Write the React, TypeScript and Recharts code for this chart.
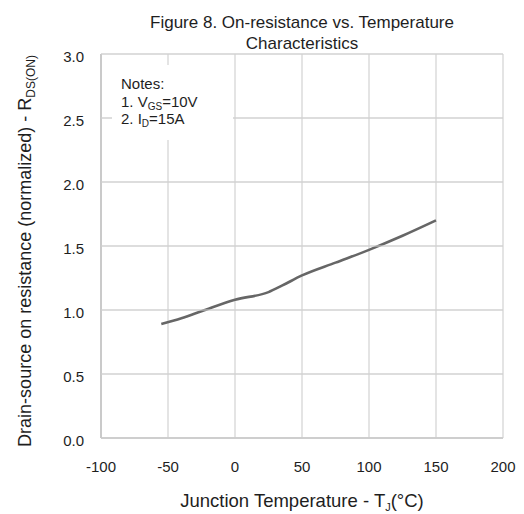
import React from 'react';
import { LineChart, Line, XAxis, YAxis, CartesianGrid } from 'recharts';

// Junction temperature (°C) and normalized RDS(ON)
const temps = [-55, -40, -25, 0, 25, 35, 50, 75, 100, 125, 150];
const rdsOn = [0.89, 0.935, 0.99, 1.08, 1.14, 1.19, 1.27, 1.37, 1.47, 1.58, 1.7];

const xTicks = [-100, -50, 0, 50, 100, 150, 200];
const yTicks = [0, 0.5, 1.0, 1.5, 2.0, 2.5, 3.0];

const titleLines = ['Figure 8. On-resistance vs. Temperature', 'Characteristics'];

const FONT = '"Liberation Sans", Arial, sans-serif';
const GRID = '#d2d2d2';
const AXIS = '#c2c2c2';
const TEXT = '#1e1e1e';

const W = 524;
const H = 514;
const MARGIN = { top: 54, right: 21, bottom: 0, left: 0 };
const Y_AXIS_W = 101;
const X_AXIS_H = 76;
const PLOT_W = W - MARGIN.right - Y_AXIS_W;

const chartData = temps.map((t, i) => ({ t, r: rdsOn[i] }));

const XTick = (props: any) => {
  const { x, y, payload } = props;
  return (
    <text x={x} y={y + 34} textAnchor="middle" fontSize={15} fill={TEXT} fontFamily={FONT}>
      {payload.value}
    </text>
  );
};

// y tick label plus its horizontal grid line
const YTick = (props: any) => {
  const { x, y, payload } = props;
  return (
    <g>
      <line x1={x} x2={x + PLOT_W} y1={y} y2={y} stroke={GRID} strokeWidth={1.2} />
      <text x={x - 17} y={y + 8} textAnchor="end" fontSize={15} fill={TEXT} fontFamily={FONT}>
        {Number(payload.value).toFixed(1)}
      </text>
    </g>
  );
};

export default function App() {
  return (
    <div style={{ position: 'absolute', left: 0, top: 0, width: W, height: H, background: '#fff' }}>
      <LineChart width={W} height={H} data={chartData} margin={MARGIN}>
        <CartesianGrid stroke={GRID} strokeWidth={1.2} />
        <XAxis
          dataKey="t"
          type="number"
          domain={[-100, 200]}
          ticks={xTicks}
          height={X_AXIS_H}
          tickLine={false}
          tickSize={0}
          tickMargin={0}
          axisLine={{ stroke: AXIS, strokeWidth: 1.5 }}
          tick={XTick}
        />
        <YAxis
          type="number"
          domain={[0, 3]}
          ticks={yTicks}
          width={Y_AXIS_W}
          tickLine={false}
          tickSize={0}
          tickMargin={0}
          axisLine={{ stroke: AXIS, strokeWidth: 1.5 }}
          tick={YTick}
        />
        <Line
          type="monotone"
          dataKey="r"
          stroke="#666666"
          strokeWidth={2.6}
          dot={false}
          activeDot={false}
          isAnimationActive={false}
        />
      </LineChart>
      <svg width={W} height={H} style={{ position: 'absolute', left: 0, top: 0, pointerEvents: 'none' }}>
        <g fontFamily={FONT} fill={TEXT}>
          {titleLines.map((line, i) => (
            <text key={line} x={302} y={28 + i * 21} textAnchor="middle" fontSize={17}>
              {line}
            </text>
          ))}
          {/* notes box */}
          <rect x={112} y={65} width={121} height={75} fill="#ffffff" />
          <g fontSize={15}>
            <text x={121} y={89}>Notes:</text>
            <text x={121} y={107}>
              1. V<tspan dy={3} fontSize={10}>GS</tspan>
              <tspan dy={-3}>=10V</tspan>
            </text>
            <text x={121} y={124}>
              2. I<tspan dy={3} fontSize={10}>D</tspan>
              <tspan dy={-3}>=15A</tspan>
            </text>
          </g>
          <text x={302} y={507} textAnchor="middle" fontSize={18.5}>
            Junction Temperature - T<tspan dy={4} fontSize={11}>J</tspan>
            <tspan dy={-4}>(°C)</tspan>
          </text>
          <text x={31} y={251} transform="rotate(-90, 31, 251)" textAnchor="middle" fontSize={18}>
            Drain-source on resistance (normalized) - R<tspan dy={4} fontSize={12}>DS(ON)</tspan>
          </text>
        </g>
      </svg>
    </div>
  );
}
